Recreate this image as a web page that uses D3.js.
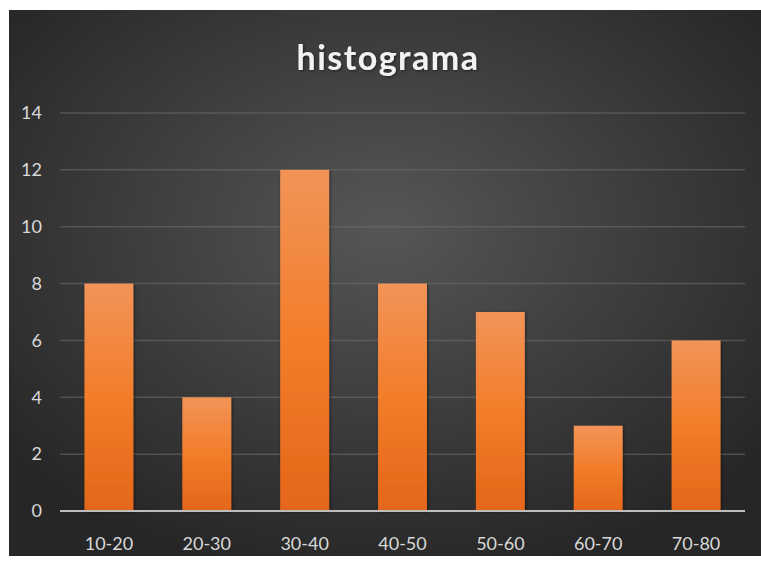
<!DOCTYPE html>
<html>
<head>
<meta charset="utf-8">
<script src="https://cdn.jsdelivr.net/npm/d3@7"></script>
<style>
  body { margin: 0; background: #fff; }
  svg { display: block; }
  text { font-family: Lato, "Open Sans", sans-serif; }
</style>
</head>
<body>
<div id="chart"></div>
<script>
// data
const categories = ["10-20", "20-30", "30-40", "40-50", "50-60", "60-70", "70-80"];
const counts = [8, 4, 12, 8, 7, 3, 6];
const yTicks = [0, 2, 4, 6, 8, 10, 12, 14];
const title = "histograma";

const W = 761, H = 566;
const margin = { left: 60, right: 16, top: 113, bottom: 55 };

const svg = d3.select("#chart").append("svg")
    .attr("width", W)
    .attr("height", H);

const defs = svg.append("defs");

const bg = defs.append("radialGradient")
    .attr("id", "bg")
    .attr("cx", "50%").attr("cy", "40%").attr("r", "65%");
bg.append("stop").attr("offset", "0%").attr("stop-color", "#565656");
bg.append("stop").attr("offset", "100%").attr("stop-color", "#262626");

const barGrad = defs.append("linearGradient")
    .attr("id", "bar")
    .attr("x1", 0).attr("y1", 0).attr("x2", 0).attr("y2", 1);
barGrad.append("stop").attr("offset", "0%").attr("stop-color", "#f29458");
barGrad.append("stop").attr("offset", "50%").attr("stop-color", "#f27d2a");
barGrad.append("stop").attr("offset", "100%").attr("stop-color", "#e4661a");

const shadow = defs.append("filter").attr("id", "shadow")
    .attr("x", "-20%").attr("y", "-20%").attr("width", "140%").attr("height", "140%");
shadow.append("feDropShadow")
    .attr("dx", 1).attr("dy", 1).attr("stdDeviation", 1.5)
    .attr("flood-color", "#000").attr("flood-opacity", 0.5);

svg.append("rect")
    .attr("x", 9).attr("y", 10)
    .attr("width", W - 9).attr("height", 546)
    .attr("fill", "url(#bg)");

const x = d3.scaleBand()
    .domain(categories)
    .range([margin.left, W - margin.right])
    .paddingInner(0.5)
    .paddingOuter(0.25);

const y = d3.scaleLinear()
    .domain([0, 14])
    .range([H - margin.bottom, margin.top]);

// gridlines
svg.append("g")
    .selectAll("line")
    .data(yTicks.filter(d => d > 0))
    .join("line")
    .attr("x1", margin.left)
    .attr("x2", W - margin.right)
    .attr("y1", d => y(d))
    .attr("y2", d => y(d))
    .attr("stroke", "#707070")
    .attr("stroke-opacity", 0.55)
    .attr("stroke-width", 1.5);

// bars
svg.append("g")
    .selectAll("rect")
    .data(counts)
    .join("rect")
    .attr("x", (d, i) => x(categories[i]))
    .attr("y", d => y(d))
    .attr("width", x.bandwidth())
    .attr("height", d => y(0) - y(d))
    .attr("fill", "url(#bar)")
    .attr("filter", "url(#shadow)");

// baseline
svg.append("line")
    .attr("x1", margin.left)
    .attr("x2", W - margin.right)
    .attr("y1", y(0))
    .attr("y2", y(0))
    .attr("stroke", "#bdbdbd")
    .attr("stroke-width", 2);

// y labels
svg.append("g")
    .selectAll("text")
    .data(yTicks)
    .join("text")
    .attr("x", 42)
    .attr("y", d => y(d))
    .attr("dy", "0.35em")
    .attr("text-anchor", "end")
    .attr("fill", "#d9d9d9")
    .attr("font-size", 18)
    .text(d => d);

// x labels
svg.append("g")
    .selectAll("text")
    .data(categories)
    .join("text")
    .attr("x", d => x(d) + x.bandwidth() / 2)
    .attr("y", 550)
    .attr("text-anchor", "middle")
    .attr("fill", "#d9d9d9")
    .attr("font-size", 18)
    .text(d => d);

// title
svg.append("text")
    .attr("x", 388)
    .attr("y", 70)
    .attr("text-anchor", "middle")
    .attr("fill", "#f2f2f2")
    .attr("font-size", 34)
    .attr("font-weight", "bold")
    .attr("letter-spacing", 1.5)
    .attr("filter", "url(#shadow)")
    .text(title);
</script>
</body>
</html>
